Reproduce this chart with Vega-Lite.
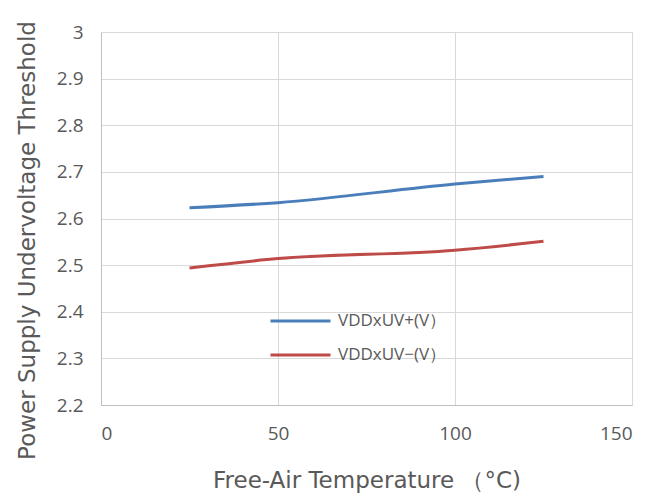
{
  "$schema": "https://vega.github.io/schema/vega-lite/v6.json",
  "width": 531,
  "height": 373,
  "autosize": {"type": "none"},
  "padding": {"left": 101, "top": 32, "right": 17, "bottom": 97},
  "background": "white",
  "config": {
    "font": "Open Sans",
    "view": {"stroke": null},
    "axis": {
      "labelColor": "#595959",
      "titleColor": "#595959",
      "labelFont": "Open Sans",
      "titleFont": "DejaVu Sans",
      "labelFontSize": 19,
      "titleFontSize": 23,
      "titleFontWeight": "normal",
      "gridColor": "#d9d9d9",
      "domainColor": "#bfbfbf",
      "ticks": false
    }
  },
  "data": {
    "values": [
      {"t": 25, "v": 2.623, "s": "VDDxUV+(V）"},
      {"t": 50, "v": 2.634, "s": "VDDxUV+(V）"},
      {"t": 100, "v": 2.674, "s": "VDDxUV+(V）"},
      {"t": 125, "v": 2.690, "s": "VDDxUV+(V）"},
      {"t": 25, "v": 2.494, "s": "VDDxUV−(V）"},
      {"t": 50, "v": 2.514, "s": "VDDxUV−(V）"},
      {"t": 100, "v": 2.532, "s": "VDDxUV−(V）"},
      {"t": 125, "v": 2.551, "s": "VDDxUV−(V）"}
    ]
  },
  "mark": {"type": "line", "strokeWidth": 3, "interpolate": "monotone"},
  "encoding": {
    "x": {
      "field": "t", "type": "quantitative",
      "scale": {"domain": [0, 150], "nice": false},
      "axis": {"values": [0, 50, 100, 150], "title": "Free-Air Temperature （°C)", "labelPadding": 19, "titlePadding": 26, "domain": true}
    },
    "y": {
      "field": "v", "type": "quantitative",
      "scale": {"domain": [2.2, 3.0], "nice": false, "zero": false},
      "axis": {"values": [2.2, 2.3, 2.4, 2.5, 2.6, 2.7, 2.8, 2.9, 3.0], "format": "~g", "title": "Power Supply Undervoltage Threshold", "labelPadding": 18, "titlePadding": 17, "titleY": 208}
    },
    "color": {
      "field": "s", "type": "nominal",
      "scale": {"domain": ["VDDxUV+(V）", "VDDxUV−(V）"], "range": ["#4a7ebb", "#be4b48"]},
      "legend": {
        "orient": "none", "legendX": 168, "legendY": 279,
        "title": null, "symbolType": "stroke", "symbolSize": 3600, "symbolStrokeWidth": 3,
        "labelFontSize": 17, "labelColor": "#595959", "labelFont": "Open Sans",
        "clipHeight": 20, "rowPadding": 14, "labelOffset": 6, "symbolOffset": 0
      }
    }
  }
}
